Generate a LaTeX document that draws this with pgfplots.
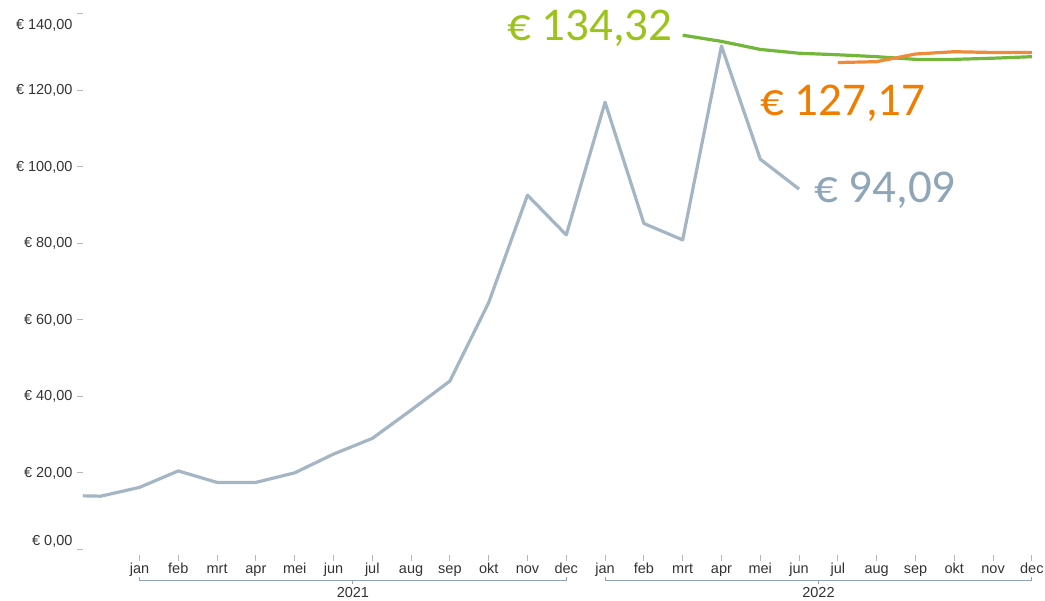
\documentclass[border=0pt]{standalone}
\usepackage{pgfplots}
\pgfplotsset{compat=1.18}
\usepackage{fontspec}
\setmainfont{Liberation Sans}
\newfontfamily\calib{Carlito}

\definecolor{greyline}{HTML}{A4B5C4}
\definecolor{greylab}{HTML}{8FA5B8}
\definecolor{greenline}{HTML}{72B63A}
\definecolor{greenlab}{HTML}{9BC31A}
\definecolor{orangeline}{HTML}{EF8A38}
\definecolor{orangelab}{HTML}{F07D00}
\definecolor{tickgrey}{HTML}{B0B8C0}
\definecolor{txt}{HTML}{333333}
\definecolor{brack}{HTML}{8FA3BD}

\begin{document}
\begin{tikzpicture}
\useasboundingbox (-83pt,-48.2pt) rectangle (962pt,552.8pt);
\begin{axis}[
  at={(0pt,0pt)}, anchor=south west, scale only axis,
  width=960.5pt, height=550.8pt,
  xmin=-1.456, xmax=23.3, ymin=-1, ymax=143,
  axis line style={draw=none},
  tick align=outside, tick pos=left,
  major tick length=6pt,
  tick style={color=tickgrey, line width=0.8pt},
  x tick style={yshift=-2pt},
  xtick={0,...,23},
  xticklabels={jan,feb,mrt,apr,mei,jun,jul,aug,sep,okt,nov,dec,
               jan,feb,mrt,apr,mei,jun,jul,aug,sep,okt,nov,dec},
  ytick={0,20,...,140},
  yticklabels={{\raisebox{8pt}{€ 0,00}},{€ 20,00},{€ 40,00},{€ 60,00},
               {€ 80,00},{€ 100,00},{€ 120,00},{\raisebox{-11.5pt}{€ 140,00}}},
  ticklabel style={font=\fontsize{14.5}{16}\selectfont, text=txt},
  xticklabel style={anchor=base, yshift=-15pt},
  yticklabel style={anchor=base east, yshift=-5pt, xshift=-1pt},
  grid=none,
]
% actuals
\addplot[greyline, line width=3.2pt, line join=round] coordinates {
 (-2,14.0) (-1,13.8) (0,16.1) (1,20.4) (2,17.4) (3,17.4) (4,19.9) (5,24.8)
 (6,28.9) (7,36.3) (8,43.9) (9,64.4) (10,92.5) (11,82.1)
 (12,116.8) (13,85.1) (14,80.8) (15,131.5) (16,101.9) (17,94.09)};
% forecast 1
\addplot[greenline, line width=3.2pt, line join=round] coordinates {
 (14,134.32) (15,132.7) (16,130.6) (17,129.6) (18,129.2) (19,128.7)
 (20,128.0) (21,128.0) (22,128.3) (23,128.7)};
% forecast 2
\addplot[orangeline, line width=3.2pt, line join=round] coordinates {
 (18,127.17) (19,127.4) (20,129.4) (21,130.0) (22,129.8) (23,129.8)};

\coordinate (J21) at (axis cs:0,0);
\coordinate (D21) at (axis cs:11,0);
\coordinate (M21) at (axis cs:5.5,0);
\coordinate (J22) at (axis cs:12,0);
\coordinate (D22) at (axis cs:23,0);
\coordinate (M22) at (axis cs:17.5,0);
\coordinate (G0) at (axis cs:14,134.32);
\coordinate (O0) at (axis cs:18,127.17);
\coordinate (E0) at (axis cs:17,94.09);
\end{axis}

% year brackets
\draw[brack, line width=0.8pt] (J21 |- 0pt,-24.5pt) -- (J21 |- 0pt,-27.2pt) -- (D21 |- 0pt,-27.2pt) -- (D21 |- 0pt,-24.5pt);
\draw[brack, line width=0.8pt] (M21 |- 0pt,-27.2pt) -- (M21 |- 0pt,-31pt);
\draw[brack, line width=0.8pt] (J22 |- 0pt,-24.5pt) -- (J22 |- 0pt,-27.2pt) -- (D22 |- 0pt,-27.2pt) -- (D22 |- 0pt,-24.5pt);
\draw[brack, line width=0.8pt] (M22 |- 0pt,-27.2pt) -- (M22 |- 0pt,-31pt);
\node[anchor=base, text=txt, font=\fontsize{14.5}{16}\selectfont] at (M21 |- 0pt,-45.2pt) {2021};
\node[anchor=base, text=txt, font=\fontsize{14.5}{16}\selectfont] at (M22 |- 0pt,-45.2pt) {2022};

% end value labels
\node[anchor=base east, inner sep=0pt, text=greenlab, font=\calib\fontsize{47}{50}\selectfont]
  at ([xshift=-10pt,yshift=-5pt]G0) {€ 134,32};
\node[anchor=base west, inner sep=0pt, text=orangelab, font=\calib\fontsize{47}{50}\selectfont]
  at ([xshift=-78pt,yshift=-53pt]O0) {€ 127,17};
\node[anchor=base west, inner sep=0pt, text=greylab, font=\calib\fontsize{47}{50}\selectfont]
  at ([xshift=15pt,yshift=-13.5pt]E0) {€ 94,09};
\end{tikzpicture}
\end{document}
